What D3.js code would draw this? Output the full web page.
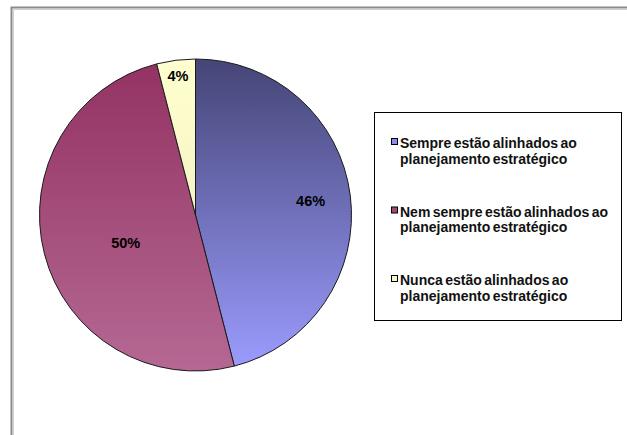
<!DOCTYPE html>
<html>
<head>
<meta charset="utf-8">
<script src="https://cdn.jsdelivr.net/npm/d3@7"></script>
<style>
body { margin: 0; background: #fff; }
text { font-family: "Liberation Sans", Arial, sans-serif; }
</style>
</head>
<body>
<div id="chart"></div>
<script>
// chart values
var categories = [
    ["Sempre estão alinhados ao", "planejamento estratégico"],
    ["Nem sempre estão alinhados ao", "planejamento estratégico"],
    ["Nunca estão alinhados ao", "planejamento estratégico"]
]
var values = [46, 50, 4]
var labels = ["46%", "50%", "4%"]

var colorsTop = ["#454577", "#933262", "#ffffd0"]
var colorsBottom = ["#9c9cff", "#b56893", "#e8e8b8"]
var markerColors = ["#8c8cf0", "#a8467a", "#f4f4c4"]

var svgWidth = 627
var svgHeight = 435

var svg = d3.select("#chart")
    .append("svg")
    .attr("width", svgWidth)
    .attr("height", svgHeight)

// outer frame (chart area border, runs off right/bottom)
svg.append("path")
    .attr("d", "M11.5,440 L11.5,7.5 L640,7.5")
    .attr("fill", "none")
    .attr("stroke", "#8a8a8a")
    .attr("stroke-width", 2)
svg.append("path")
    .attr("d", "M13.5,440 L13.5,9.5 L640,9.5")
    .attr("fill", "none")
    .attr("stroke", "#d0d0d0")
    .attr("stroke-width", 1)

var cx = 195.5, cy = 215, radius = 156

var defs = svg.append("defs")
values.forEach(function (v, i) {
    var g = defs.append("linearGradient")
        .attr("id", "grad" + i)
        .attr("gradientUnits", "userSpaceOnUse")
        .attr("x1", 0).attr("y1", cy - radius)
        .attr("x2", 0).attr("y2", cy + radius)
    g.append("stop").attr("offset", "0%").attr("stop-color", colorsTop[i])
    g.append("stop").attr("offset", "100%").attr("stop-color", colorsBottom[i])
})

var pie = d3.pie().sort(null).value(d => d)
var arcs = pie(values)

// slices drawn in absolute coords so the gradient spans the whole pie
svg.selectAll(".slice")
    .data(arcs)
    .enter()
    .append("path")
    .classed("slice", true)
    .attr("d", d => {
        var p = d3.path()
        var a0 = d.startAngle - Math.PI / 2, a1 = d.endAngle - Math.PI / 2
        p.moveTo(cx, cy)
        p.lineTo(cx + radius * Math.cos(a0), cy + radius * Math.sin(a0))
        p.arc(cx, cy, radius, a0, a1)
        p.closePath()
        return p.toString()
    })
    .attr("fill", (d, i) => `url(#grad${i})`)
    .attr("stroke", "#1a1a1a")
    .attr("stroke-width", 1)

// excel puts each label at its own distance from the centre
var labelRadius = [116, 72, 140]
var labelShift = [0, 10, 0]
svg.selectAll(".plabel")
    .data(arcs)
    .enter()
    .append("text")
    .classed("plabel", true)
    .attr("x", (d, i) => cx + labelRadius[i] * Math.sin((d.startAngle + d.endAngle) / 2))
    .attr("y", (d, i) => cy - labelRadius[i] * Math.cos((d.startAngle + d.endAngle) / 2) + labelShift[i])
    .attr("text-anchor", "middle")
    .attr("dy", "0.35em")
    .attr("font-size", "14.5px")
    .attr("font-weight", "bold")
    .attr("fill", "#000")
    .text((d, i) => labels[i])

// legend
var legend = svg.append("g")
legend.append("rect")
    .attr("x", 374.5)
    .attr("y", 112.5)
    .attr("width", 247)
    .attr("height", 208)
    .attr("fill", "#fff")
    .attr("stroke", "#000")
    .attr("stroke-width", 1)

var legendY = [148, 216.5, 285]
categories.forEach(function (lines, i) {
    legend.append("rect")
        .attr("x", 391.5)
        .attr("y", legendY[i] - 9.5)
        .attr("width", 6)
        .attr("height", 6)
        .attr("fill", markerColors[i])
        .attr("stroke", "#000")
        .attr("stroke-width", 1)
    lines.forEach(function (line, j) {
        legend.append("text")
            .attr("x", 400)
            .attr("y", legendY[i] + j * 15.5)
            .attr("font-size", "14px")
            .attr("font-weight", "bold")
            .attr("word-spacing", "-1.5px")
            .attr("fill", "#111")
            .text(line)
    })
})
</script>
</body>
</html>
